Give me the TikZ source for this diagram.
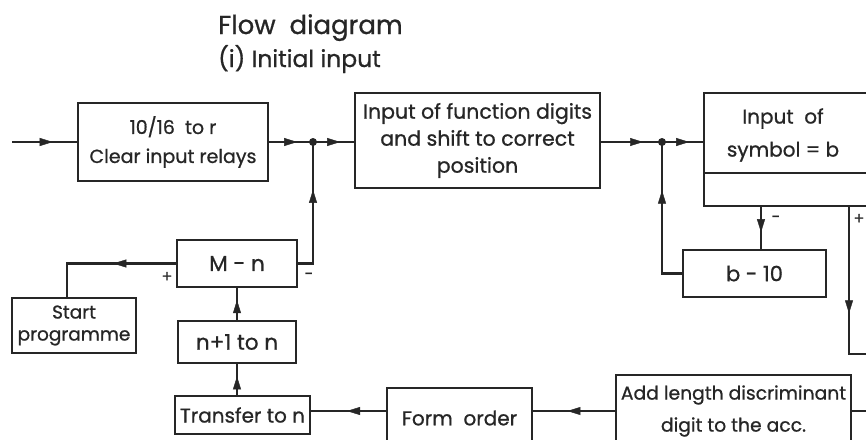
\documentclass[tikz,border=0pt]{standalone}
\usepackage{fontspec}
\setmainfont{Poppins}[FakeBold=0.8]
\usetikzlibrary{arrows.meta,decorations.markings}
\definecolor{ink}{HTML}{262626}
\begin{document}
\begin{tikzpicture}[x=1pt,y=-1pt,
  box/.style={draw=ink, line width=1.8pt, inner sep=0pt, align=center, text=ink, font=\fontsize{20}{29}\selectfont},
  midarrow/.style={postaction={decorate}, decoration={markings, mark=at position #1 with {\arrow[line width=0.4pt]{Triangle[length=13pt,width=8pt]}}}},
  conn/.style={draw=ink, line width=2.4pt, line cap=rect},
  lbl/.style={font=\fontsize{16}{16}\selectfont, text=ink, inner sep=0pt},
  jdot/.style={circle, fill=ink, inner sep=0pt, minimum size=8pt}]
\useasboundingbox (0,0) rectangle (866,439);
\clip (0,0) rectangle (866,439);
\fill[white] (0,0) rectangle (866,439);
% title
\node[anchor=base west, text=ink, inner sep=0pt, font=\fontsize{26}{26}\selectfont] (title) at (218,34) {Flow\ \ diagram};
\node[anchor=base west, text=ink, inner sep=0pt, font=\fontsize{23.5}{23.5}\selectfont] (sub) at (218,67) {(i) Initial input};
% boxes
\node[box, minimum width=190pt, minimum height=78pt, font=\fontsize{19}{29}\selectfont] (clr) at (173,142) {10/16\ \ to r\\Clear input relays};
\node[box, minimum width=245pt, minimum height=95pt, font=\fontsize{20.5}{27}\selectfont] (fn) at (477.5,140.5) {Input of function digits\\and shift to correct\\position};
\node[box, minimum width=190pt, minimum height=113pt] (sym) at (799,149.5) {};
\node[text=ink, align=center, inner sep=0pt, font=\fontsize{20}{33}\selectfont] (symt) at (783,135) {Input\ \ of\\symbol = b};
\coordinate (divy) at (0,173);
\draw[box] (sym.west |- divy) -- (sym.east |- divy);
\node[box, minimum width=143pt, minimum height=47pt, font=\fontsize{21}{29}\selectfont] (bm) at (754.5,273.5) {b - 10};
\node[box, minimum width=120pt, minimum height=47pt, font=\fontsize{21.5}{29}\selectfont] (mn) at (237,263.5) {M - n};
\node[box, minimum width=124pt, minimum height=55pt, font=\fontsize{18.5}{22}\selectfont] (start) at (74,325.5) {Start\\programme};
\node[box, minimum width=118pt, minimum height=42pt, font=\fontsize{21.5}{29}\selectfont] (inc) at (237,342) {n+1 to n};
\node[box, minimum width=135pt, minimum height=38pt] (tr) at (242.5,415) {Transfer to n};
\node[box, minimum width=145pt, minimum height=60pt] (form) at (459.5,418) {Form\ \ order};
\node[box, minimum width=235pt, minimum height=72pt, font=\fontsize{18.75}{32}\selectfont] (add) at (733.5,411) {Add length discriminant\\digit to the acc.};
% junctions and free ends
\coordinate (in) at (13,142);
\coordinate (d1) at (313,142);
\coordinate (d2) at (662,142);
\coordinate (mx) at (761,0);
\coordinate (px) at (849,354);
\coordinate (pout) at (875,354);
\coordinate (hy) at (0,411);
\coordinate (aout) at (875,411);
\coordinate (sx) at (67,0);
% connectors
\draw[conn, midarrow=0.62] (in) -- (clr.west);
\draw[conn, midarrow=0.64] (clr.east) -- (d1);
\draw[conn, midarrow=0.66] (d1) -- (fn.west |- d1);
\draw[conn, midarrow=0.69] (fn.east |- d2) -- (d2);
\draw[conn, midarrow=0.66] (d2) -- (sym.west |- d2);
\draw[conn, midarrow=0.6] (sym.south -| mx) -- (bm.north -| mx);
\draw[conn, midarrow=0.68] (bm.west) -| (d2);
\draw[conn, midarrow=0.615] (sym.south -| px) -- (px) -- (pout);
\draw[conn] (add.east |- hy) -- (aout);
\draw[conn, midarrow=0.58] (add.west |- hy) -- (form.east |- hy);
\draw[conn, midarrow=0.52] (form.west |- hy) -- (tr.east |- hy);
\draw[conn, midarrow=0.6] (tr.north -| inc.south) -- (inc.south);
\draw[conn, midarrow=0.62] (inc.north) -- (mn.south);
\draw[conn, midarrow=0.65] (mn.east) -| (d1);
\draw[conn, midarrow=0.44] (mn.west) -| (start.north -| sx);
\node[jdot] (j1) at (d1) {};
\node[jdot] (j2) at (d2) {};
% signs
\node[lbl] (lm1) at (776,219) {-};
\node[lbl] (lp1) at (859,219) {+};
\node[lbl] (lp2) at (167,277) {+};
\node[lbl] (lm2) at (309,276) {-};
\end{tikzpicture}
\end{document}
